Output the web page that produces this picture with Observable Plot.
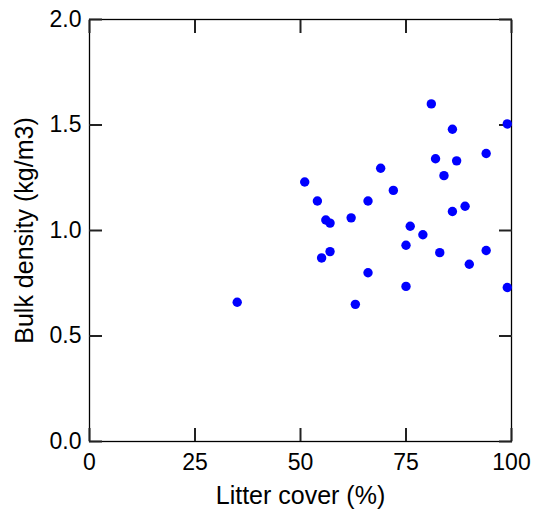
<!DOCTYPE html>
<html>
<head>
<meta charset="utf-8">
<script src="https://cdn.jsdelivr.net/npm/d3@7"></script>
<script src="https://cdn.jsdelivr.net/npm/@observablehq/plot@0.6"></script>
<style>
  html, body { margin: 0; padding: 0; background: #fff; color: #000; }
  #chart svg { font-family: 'Liberation Sans', Arial, sans-serif; font-size: 23px; background: #fff; }
</style>
</head>
<body>
<div id="chart"></div>
<script>
const litterCover = [35, 51, 54, 55, 56, 57, 57, 62, 63, 66, 66, 69, 72, 75, 75, 76, 79, 81, 82, 83, 84, 86, 86, 87, 89, 90, 94, 94, 99, 99];
const bulkDensity = [0.66, 1.23, 1.14, 0.87, 1.05, 1.035, 0.90, 1.06, 0.65, 1.14, 0.80, 1.295, 1.19, 0.93, 0.735, 1.02, 0.98, 1.60, 1.34, 0.895, 1.26, 1.48, 1.09, 1.33, 1.115, 0.84, 1.365, 0.905, 1.505, 0.73];
const xTicks = [0, 25, 50, 75, 100];
const yTicks = [0, 0.5, 1.0, 1.5, 2.0];
const xLabel = "Litter cover (%)";
const yLabel = "Bulk density (kg/m3)";

const data = litterCover.map((x, i) => ({x, y: bulkDensity[i]}));

const W = 536, H = 510, mL = 89, mR = 25, mT = 19, mB = 69;
const xDomain = [0, 100], yDomain = [0, 2];
const tickLen = 13;

const chart = Plot.plot({
  width: W,
  height: H,
  marginLeft: mL,
  marginRight: mR,
  marginTop: mT,
  marginBottom: mB,
  x: {domain: xDomain},
  y: {domain: yDomain},
  marks: [
    Plot.frame({stroke: "black", strokeWidth: 1.3}),
    // inward ticks on all four sides (axis tick vectors shifted inside the frame)
    Plot.axisX(xTicks, {anchor: "bottom", tickSize: tickLen, dy: -tickLen, tickFormat: () => "", label: null, stroke: "#222", strokeWidth: 2}),
    Plot.axisX(xTicks, {anchor: "top", tickSize: tickLen, dy: tickLen, tickFormat: () => "", label: null, stroke: "#222", strokeWidth: 2}),
    Plot.axisY(yTicks, {anchor: "left", tickSize: tickLen, dx: tickLen, tickFormat: () => "", label: null, stroke: "#222", strokeWidth: 2}),
    Plot.axisY(yTicks, {anchor: "right", tickSize: tickLen, dx: -tickLen, tickFormat: () => "", label: null, stroke: "#222", strokeWidth: 2}),
    // tick labels
    Plot.axisX(xTicks, {anchor: "bottom", tickSize: 0, tickPadding: 12, label: null}),
    Plot.axisY(yTicks, {anchor: "left", tickSize: 0, tickPadding: 8, tickFormat: d3.format(".1f"), label: null}),
    // axis titles
    Plot.axisX([], {anchor: "bottom", tickSize: 0, fontSize: 25, label: xLabel, labelAnchor: "center", labelOffset: 62, labelArrow: "none"}),
    Plot.axisY([], {anchor: "left", tickSize: 0, fontSize: 25, label: yLabel, labelAnchor: "center", labelOffset: 74, labelArrow: "none"}),
    Plot.dot(data, {x: "x", y: "y", r: 4.7, fill: "#0000ff", stroke: "none"})
  ]
});
document.getElementById("chart").append(chart);
</script>
</body>
</html>
